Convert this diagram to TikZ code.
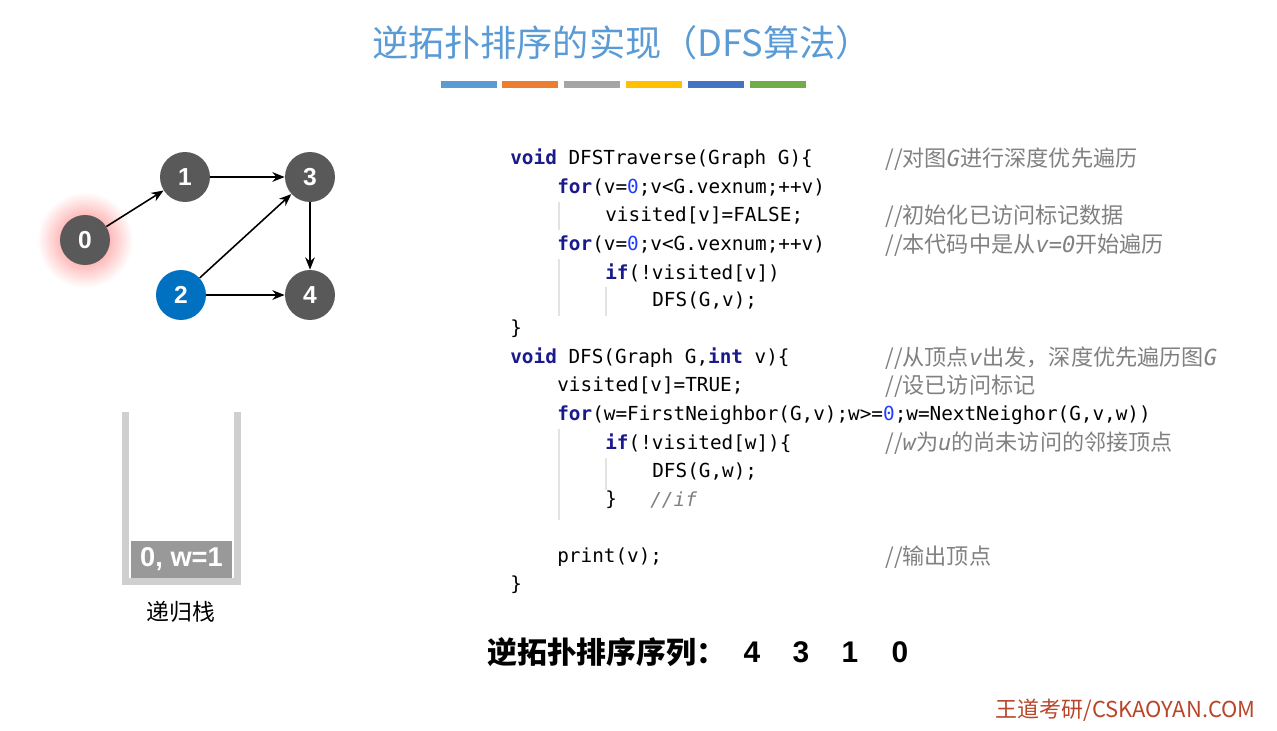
\documentclass[tikz,border=0pt]{standalone}
\usepackage{fontspec}
\setmainfont{Liberation Sans}
\newfontfamily\cjk{Noto Sans CJK SC}
\newfontfamily\codefont{DejaVu Sans Mono}
\usetikzlibrary{arrows.meta,positioning}

\definecolor{nodegray}{HTML}{595959}
\definecolor{nodeblue}{HTML}{0070C0}
\definecolor{titleblue}{HTML}{5B9BD5}
\definecolor{barorange}{HTML}{ED7D31}
\definecolor{bargray}{HTML}{A5A5A5}
\definecolor{baryellow}{HTML}{FFC000}
\definecolor{bardarkblue}{HTML}{4472C4}
\definecolor{bargreen}{HTML}{70AD47}
\definecolor{kwnavy}{HTML}{1A1A8C}
\definecolor{numblue}{HTML}{1E3CFF}
\definecolor{cmtgray}{HTML}{808080}
\definecolor{guidegray}{HTML}{E3E3E3}
\definecolor{stackwall}{HTML}{CFCFCF}
\definecolor{stackfill}{HTML}{999999}
\definecolor{logored}{HTML}{B8452A}

\newcommand{\kw}[1]{\textbf{\color{kwnavy}#1}}
\newcommand{\nz}{\textcolor{numblue}{0}}
\newcommand{\ivar}[1]{{\codefont\itshape #1}}

\begin{document}
\begin{tikzpicture}[
  x=0.02cm, y=-0.02cm,
  vtx/.style={circle, fill=nodegray, text=white, minimum size=1cm, inner sep=0pt, font=\bfseries\fontsize{14}{14}\selectfont},
  arr/.style={-{Stealth[length=7pt,width=5.5pt]}, line width=0.9pt},
  codeline/.style={anchor=west, inner sep=0pt, font=\codefont\fontsize{11}{13}\selectfont},
  cmtline/.style={anchor=west, inner sep=0pt, text=cmtgray, font=\cjk\fontsize{12.6}{14}\selectfont},
  guide/.style={guidegray, line width=0.6pt}
]
\useasboundingbox (0,0) rectangle (1277,730);

% title
\node[text=titleblue, font=\cjk\fontsize{20.6}{24}\selectfont] (title) at (622,43) {逆拓扑排序的实现（DFS算法）};
\fill[titleblue]   (441,81) rectangle (497,88);
\fill[barorange]   (502,81) rectangle (558,88);
\fill[bargray]     (564,81) rectangle (620,88);
\fill[baryellow]   (626,81) rectangle (682,88);
\fill[bardarkblue] (688,81) rectangle (744,88);
\fill[bargreen]    (750,81) rectangle (806,88);

% graph
\shade[inner color=red!55, outer color=white] (85,240) circle (48);
\node[vtx] (v0) at (85,240) {0};
\node[vtx] (v1) at (185,177) {1};
\node[vtx] (v3) at (310,177) {3};
\node[vtx, fill=nodeblue] (v2) at (181,295) {2};
\node[vtx] (v4) at (310,295) {4};

\draw[arr] (v0) -- (v1);
\draw[arr] (v1) -- (v3);
\draw[arr] (v2) -- (v3);
\draw[arr] (v2) -- (v4);
\draw[arr] (v3) -- (v4);

% recursion stack
\fill[stackwall] (122,412) rectangle (129,585);
\fill[stackwall] (234,412) rectangle (241,585);
\fill[stackwall] (129,578) rectangle (234,585);
\node[fill=stackfill, text=white, minimum width=2.02cm, minimum height=0.74cm, inner sep=0pt,
  font=\bfseries\fontsize{15.5}{16}\selectfont] (top) at (181.5,559.5) {0, w=1};
\node[font=\cjk\fontsize{13}{14}\selectfont] (stacklbl) at (181,612) {递归栈};

% code
\node[codeline] (trav)     at (510,159) {\kw{void} DFSTraverse(Graph G)\{};
\node[codeline] (travfor1) at (557,188) {\kw{for}(v=\nz;v<G.vexnum;++v)};
\node[codeline] (visfalse) at (605,216) {visited[v]=FALSE;};
\node[codeline] (travfor2) at (557,245) {\kw{for}(v=\nz;v<G.vexnum;++v)};
\node[codeline] (ifvis)    at (605,273) {\kw{if}(!visited[v])};
\node[codeline] (calldfs)  at (652,301) {DFS(G,v);};
\node[codeline] (travend)  at (510,329) {\}};
\node[codeline] (dfshead)  at (510,358) {\kw{void} DFS(Graph G,\kw{int} v)\{};
\node[codeline] (vistrue)  at (557,386) {visited[v]=TRUE;};
\node[codeline] (dfsfor)   at (557,415) {\kw{for}(w=FirstNeighbor(G,v);w>=\nz;w=NextNeighor(G,v,w))};
\node[codeline] (ifw)      at (605,443) {\kw{if}(!visited[w])\{};
\node[codeline] (dfsw)     at (652,472) {DFS(G,w);};
\node[codeline] (ifend)    at (605,500) {\}};
\node[codeline, text=cmtgray, font=\codefont\itshape\fontsize{11}{13}\selectfont] (ifcmt) at (650,500) {//if};
\node[codeline] (printv)   at (557,557) {print(v);};
\node[codeline] (dfsend)   at (510,585) {\}};

\node[cmtline] (ctrav)  at (885,159) {//对图\ivar{G}进行深度优先遍历};
\node[cmtline] (cinit)  at (885,216) {//初始化已访问标记数据};
\node[cmtline] (cstart) at (885,245) {//本代码中是从\ivar{v=0}开始遍历};
\node[cmtline] (cdfs)   at (885,358) {//从顶点\ivar{v}出发，深度优先遍历图\ivar{G}};
\node[cmtline] (cvis)   at (885,386) {//设已访问标记};
\node[cmtline] (cw)     at (885,443) {//\ivar{w}为\ivar{u}的尚未访问的邻接顶点};
\node[cmtline] (cprint) at (885,557) {//输出顶点};

% indent guides
\draw[guide] (559,202) -- (559,230);
\draw[guide] (559,259) -- (559,316);
\draw[guide] (606,287) -- (606,316);
\draw[guide] (559,429) -- (559,520);
\draw[guide] (606,458) -- (606,490);

% result sequence
\node[anchor=west, inner sep=0pt, font=\cjk\bfseries\fontsize{17}{20}\selectfont] (seqlbl) at (487,652) {逆拓扑排序序列：};
\node[font=\bfseries\fontsize{17}{20}\selectfont] (s4) at (752,652) {4};
\node[font=\bfseries\fontsize{17}{20}\selectfont] (s3) at (801,652) {3};
\node[font=\bfseries\fontsize{17}{20}\selectfont] (s1) at (850,652) {1};
\node[font=\bfseries\fontsize{17}{20}\selectfont] (s0) at (900,652) {0};

% footer
\node[anchor=east, inner sep=0pt, text=logored, font=\cjk\fontsize{12.5}{14}\selectfont] (logo) at (1256,710) {王道考研/CSKAOYAN.COM};
\end{tikzpicture}
\end{document}
